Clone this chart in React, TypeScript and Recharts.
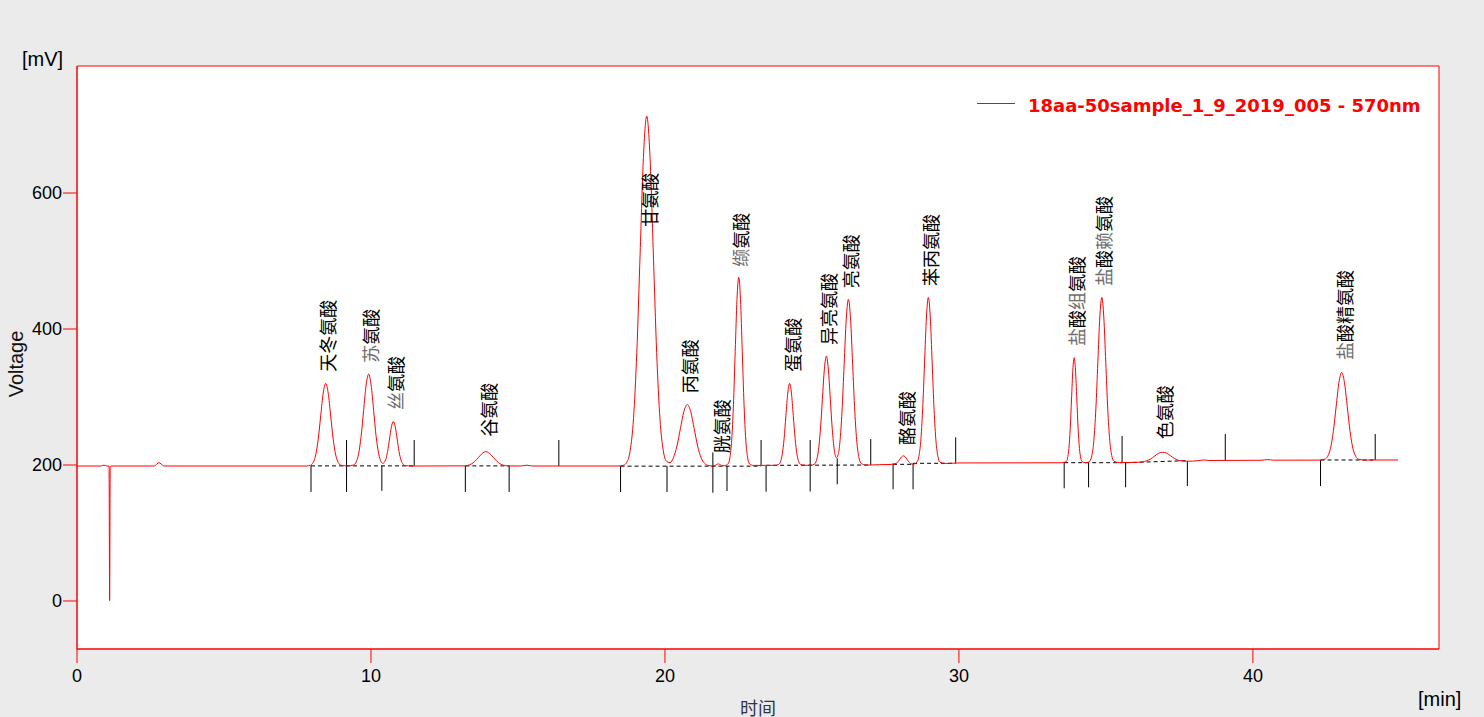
import React from 'react';
import {
  ComposedChart,
  Line,
  XAxis,
  YAxis,
  ReferenceLine,
  ReferenceArea,
  ReferenceDot,
  CartesianGrid,
  Label,
} from 'recharts';

// ---- chromatogram trace (time in min, signal in mV) ----
const traceTime = [
  0, 0.8, 0.92, 1.02, 1.09, 1.11, 1.13, 1.16, 2.62, 2.72, 2.79, 2.86, 2.96, 7.8,
  7.95, 8.035, 8.12, 8.205, 8.29, 8.375, 8.46, 8.545, 8.63, 8.715, 8.8, 8.885, 8.97, 9.2,
  9.41, 9.495, 9.58, 9.665, 9.75, 9.835, 9.92, 10.005, 10.09, 10.175, 10.26, 10.345, 10.4,
  10.5, 10.565, 10.63, 10.695, 10.76, 10.825, 10.89, 10.955, 11.02, 11.085, 11.15, 11.4,
  13.16, 13.41, 13.535, 13.66, 13.785, 13.91, 14.035, 14.16, 14.285, 14.41, 14.66,
  15.1, 15.3, 15.5, 18.4,
  18.5925, 18.705, 18.8175, 18.93, 19.0425, 19.155, 19.2675, 19.38, 19.4925, 19.605,
  19.7175, 19.83, 19.9425, 20.055,
  20.1725, 20.29, 20.4075, 20.525, 20.6425, 20.76, 20.8775, 20.995, 21.1125, 21.23,
  21.3475, 21.465, 21.6,
  21.7, 21.76, 21.81, 21.86, 21.93, 22.02,
  22.15, 22.21, 22.27, 22.33, 22.39, 22.45, 22.51, 22.57, 22.63, 22.69, 22.75, 22.81,
  22.87, 23.0, 23.75,
  23.865, 23.9275, 23.99, 24.0525, 24.115, 24.1775, 24.24, 24.3025, 24.365, 24.4275,
  24.49, 24.5525, 24.615, 24.75, 24.95,
  25.085, 25.1525, 25.22, 25.2875, 25.355, 25.4225, 25.49, 25.5575, 25.625, 25.6925,
  25.76, 25.8275, 25.895, 25.95, 26.0225, 26.095, 26.1675, 26.24, 26.3125, 26.385,
  26.4575, 26.53, 26.6025, 26.675, 26.85, 27.3, 27.7,
  27.87, 27.99, 28.05, 28.11, 28.17, 28.23, 28.29, 28.35, 28.45,
  28.57, 28.635, 28.7, 28.765, 28.83, 28.895, 28.96, 29.025, 29.09, 29.155, 29.22,
  29.285, 29.35, 29.55, 30.0, 33.5,
  33.65, 33.695, 33.74, 33.785, 33.83, 33.875, 33.92, 33.965, 34.01, 34.055, 34.1,
  34.145, 34.19, 34.3, 34.4,
  34.455, 34.5225, 34.59, 34.6575, 34.725, 34.7925, 34.86, 34.9275, 34.995, 35.0625,
  35.13, 35.1975, 35.265, 35.45, 35.7,
  36.1, 36.39, 36.525, 36.66, 36.795, 36.93, 37.065, 37.2, 37.335, 37.47, 37.74,
  38.15, 38.33, 38.5, 40.3, 40.5, 40.7, 42.3,
  42.45, 42.545, 42.64, 42.735, 42.83, 42.925, 43.02, 43.115, 43.21, 43.305, 43.4,
  43.495, 43.59, 43.8, 44.94,
];

const traceMV = [
  198.5, 198.5, 199.8, 198.5, 198.5, 0.5, 197.0, 198.5, 198.5, 201.5, 203.5, 201.5, 198.5, 198.5,
  199.8, 203.8, 214.9, 238.0, 272.2, 305.7, 320.0, 305.7, 272.2, 238.0, 214.9, 203.8, 199.8, 198.6,
  200.0, 204.4, 216.8, 242.3, 280.4, 317.6, 333.5, 317.6, 280.4, 242.3, 217.1, 204.8, 202.4,
  207.8, 219.9, 238.2, 256.3, 264.0, 256.3, 238.2, 219.8, 207.4, 201.4, 199.2, 198.5,
  198.7, 201.4, 205.4, 211.3, 217.1, 219.6, 217.1, 211.3, 205.4, 201.4, 198.7,
  198.5, 199.7, 198.5, 198.5,
  199.6, 204.2, 221.1, 268.1, 365.6, 510.5, 652.5, 713.0, 652.5, 510.5,
  365.6, 268.1, 221.3, 205.2,
  203.5, 210.9, 227.9, 253.4, 278.4, 289.0, 278.4, 253.4, 227.9, 210.7,
  202.5, 199.5, 198.6,
  199.3, 200.9, 201.6, 200.9, 199.3, 198.8,
  202.1, 211.2, 236.5, 288.9, 367.0, 443.5, 476.0, 443.5, 367.0, 288.9, 236.5, 211.2,
  202.1, 199.4, 199.5,
  200.8, 204.8, 215.8, 238.6, 272.6, 305.8, 320.0, 305.8, 272.6, 238.6,
  215.8, 204.8, 200.8, 199.6, 199.5,
  201.3, 206.5, 221.2, 251.6, 296.8, 341.1, 360.0, 341.1, 296.8, 251.8,
  222.2, 210.7, 215.7, 233.1, 278.8, 347.6, 414.9, 443.6, 414.9, 347.6,
  278.8, 232.6, 210.3, 202.3, 199.8, 200.5, 200.8,
  202.5, 208.5, 212.0, 213.5, 212.0, 208.5, 204.9, 202.5, 201.1,
  204.2, 212.3, 234.6, 281.1, 350.1, 417.7, 446.5, 417.7, 350.1, 281.1, 234.6,
  212.3, 204.2, 202.2, 203.0, 203.3,
  205.0, 210.1, 224.2, 253.5, 297.0, 339.6, 357.8, 339.6, 297.0, 253.5, 224.2,
  210.1, 205.0, 203.4, 204.0,
  206.0, 214.0, 236.2, 282.2, 350.7, 417.7, 446.3, 417.7, 350.7, 282.2,
  236.2, 214.0, 206.0, 203.5, 203.6,
  204.0, 206.3, 209.0, 213.2, 217.3, 218.7, 217.4, 213.5, 209.5, 206.9, 205.5,
  206.4, 207.4, 206.6, 207.0, 208.0, 207.1, 207.2,
  208.6, 212.9, 224.7, 249.1, 285.4, 321.0, 336.2, 321.0, 285.4, 249.1, 224.7,
  212.9, 208.6, 207.3, 207.4,
];

// ---- peak names and label anchor (bottom of the rotated text) ----
const peakNames = [
  '天冬氨酸', '苏氨酸', '丝氨酸', '谷氨酸', '甘氨酸', '丙氨酸', '胱氨酸', '缬氨酸',
  '蛋氨酸', '异亮氨酸', '亮氨酸', '酪氨酸', '苯丙氨酸', '盐酸组氨酸', '盐酸赖氨酸',
  '色氨酸', '盐酸精氨酸',
];
const labelTime = [
  8.49, 9.97, 10.82, 13.99, 19.46, 20.83, 21.89, 22.55, 24.31, 25.55, 26.29, 28.2,
  29.01, 33.98, 34.91, 36.97, 43.09,
];
const labelMV = [
  337.2, 350.4, 280.9, 241.6, 550.4, 305.4, 217.2, 491.6, 337.2, 376.5, 459.9, 229.4,
  463.2, 375.0, 463.2, 237.8, 354.4,
];
const grayChars = ['苏', '丝', '缬', '盐', '组', '赖'];

// ---- integration markers (vertical ticks) ----
const markerTime = [
  7.96, 9.17, 10.37, 11.47, 13.21, 14.7, 16.39, 18.49, 20.07, 21.63, 22.11, 23.27, 23.44,
  24.94, 25.86, 27.0, 27.76, 28.44, 29.89, 33.58, 34.41, 35.55, 35.67, 37.77, 39.06,
  42.3, 44.16,
];
const markerTopMV = [
  198.5, 236.8, 199.0, 236.8, 198.5, 198.5, 236.8, 198.5, 198.5, 218.5, 198.5, 236.8, 198.9,
  236.8, 209.8, 238.2, 202.5, 202.5, 240.7, 203.4, 203.4, 242.6, 203.4, 205.9, 245.6,
  207.4, 245.6,
];
const markerBottomMV = [
  160.3, 160.3, 162.0, 198.5, 160.3, 160.3, 198.5, 160.3, 160.3, 159.3, 161.8, 198.9, 160.7,
  161.0, 171.6, 200.0, 164.3, 164.3, 203.4, 165.7, 167.2, 203.4, 167.2, 169.1, 207.4,
  169.1, 207.4,
];

// ---- dashed integration baselines ----
const baseStartTime = [7.96, 13.21, 18.49, 23.44, 27.76, 28.44, 33.58, 35.67, 42.3];
const baseEndTime = [11.47, 14.7, 23.27, 27.0, 28.44, 29.89, 35.55, 37.77, 44.16];
const baseStartMV = [198.7, 198.7, 198.3, 199.5, 201.0, 202.5, 203.4, 203.4, 207.4];
const baseEndMV = [198.7, 198.7, 198.3, 200.0, 201.0, 202.5, 203.4, 206.4, 207.4];

const xTicks = [0, 10, 20, 30, 40];
const yTicks = [0, 200, 400, 600];
const xDomain: [number, number] = [0, 46.33];
const yDomain: [number, number] = [-70.6, 786.8];

const seriesName = '18aa-50sample_1_9_2019_005 - 570nm';

const data = traceTime.map((t, i) => ({ t, mv: traceMV[i] }));

const RED = '#ff0000';
const LATIN = "'Liberation Sans', Arial, sans-serif";
const CJK = "'Noto Sans CJK SC', sans-serif";

const PeakLabel = (props: any) => {
  const { cx, cy, text } = props;
  if (cx == null || cy == null) return null;
  return (
    <text
      x={cx}
      y={cy}
      transform={`rotate(-90 ${cx} ${cy})`}
      textAnchor="start"
      dominantBaseline="central"
      fontSize={18}
      fontFamily={CJK}
    >
      {Array.from(text as string).map((ch, i) => (
        <tspan key={i} fill={grayChars.includes(ch) ? '#6f6f6f' : '#000'}>
          {ch}
        </tspan>
      ))}
    </text>
  );
};

const YTitles = () => (
  <g>
    <text
      x={16}
      y={364}
      transform="rotate(-90 16 364)"
      textAnchor="middle"
      dominantBaseline="central"
      fontSize={20}
      fontFamily={LATIN}
      fill="#111"
    >
      Voltage
    </text>
    <text x={22} y={66} fontSize={20} fontFamily={LATIN} fill="#000">
      [mV]
    </text>
    <text
      x={1028}
      y={112}
      fontSize={18}
      fontWeight="bold"
      fontFamily="'DejaVu Sans', Verdana, sans-serif"
      fill={RED}
    >
      {seriesName}
    </text>
  </g>
);

const XTitles = () => (
  <g>
    <text x={1418} y={706} fontSize={20} fontFamily={LATIN} fill="#000">
      [min]
    </text>
    <text x={740} y={715} fontSize={18} fontFamily={CJK} fill="#333344">
      时间
    </text>
  </g>
);

export default function App() {
  return (
    <div
      style={{
        position: 'absolute',
        left: 0,
        top: 0,
        width: 1484,
        height: 717,
        background: '#ebebeb',
        overflow: 'hidden',
      }}
    >
      <ComposedChart
        width={1484}
        height={717}
        data={data}
        margin={{ top: 66, right: 45, bottom: 38, left: 17 }}
      >
        <CartesianGrid horizontal={false} vertical={false} fill="#ffffff" />
        <XAxis
          type="number"
          dataKey="t"
          domain={xDomain}
          ticks={xTicks}
          allowDataOverflow
          height={30}
          tickSize={14}
          tickMargin={6}
          axisLine={{ stroke: RED }}
          tickLine={{ stroke: RED }}
          tick={{ fill: '#000', fontSize: 18, fontFamily: LATIN }}
        >
          <Label content={() => <XTitles />} />
        </XAxis>
        <YAxis
          type="number"
          domain={yDomain}
          ticks={yTicks}
          allowDataOverflow
          width={60}
          tickSize={14}
          tickMargin={1}
          axisLine={{ stroke: RED }}
          tickLine={{ stroke: RED }}
          tick={{ fill: '#000', fontSize: 18, fontFamily: LATIN }}
        >
          <Label content={() => <YTitles />} />
        </YAxis>

        {baseStartTime.map((t, i) => (
          <ReferenceLine
            key={`b${i}`}
            segment={[
              { x: t, y: baseStartMV[i] },
              { x: baseEndTime[i], y: baseEndMV[i] },
            ]}
            stroke="#000"
            strokeWidth={1}
            strokeDasharray="4 3"
          />
        ))}
        {markerTime.map((t, i) => (
          <ReferenceLine
            key={`m${i}`}
            segment={[
              { x: t, y: markerTopMV[i] },
              { x: t, y: markerBottomMV[i] },
            ]}
            stroke="#000"
            strokeWidth={1}
          />
        ))}

        <Line
          type="monotone"
          dataKey="mv"
          stroke={RED}
          strokeWidth={1}
          dot={false}
          activeDot={false}
          isAnimationActive={false}
        />

        {peakNames.map((name, i) => (
          <ReferenceDot
            key={`l${i}`}
            x={labelTime[i]}
            y={labelMV[i]}
            r={0}
            shape={(p: any) => <PeakLabel cx={p.cx} cy={p.cy} text={name} />}
          />
        ))}

        <ReferenceArea
          x1={xDomain[0]}
          x2={xDomain[1]}
          y1={yDomain[0]}
          y2={yDomain[1]}
          fill="none"
          fillOpacity={0}
          stroke={RED}
          strokeWidth={1}
        />
      </ComposedChart>
      <div
        style={{
          position: 'absolute',
          left: 977,
          top: 103,
          width: 38,
          height: 1,
          background: RED,
          pointerEvents: 'none',
        }}
      />
    </div>
  );
}
